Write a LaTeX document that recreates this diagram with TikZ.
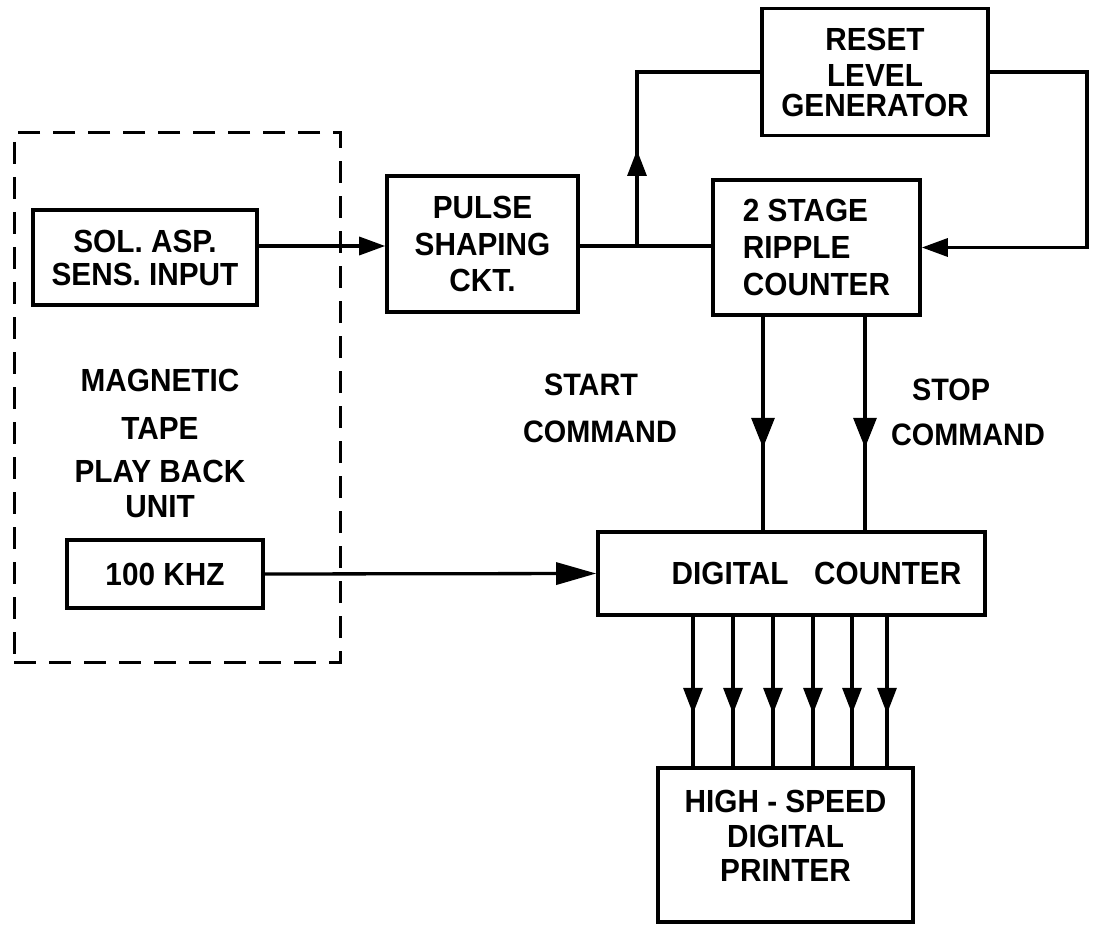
\documentclass[tikz,border=0pt]{standalone}
\usepackage{fontspec}
\setmainfont{Liberation Sans}[FakeStretch=0.93]
\usetikzlibrary{arrows.meta,decorations.markings,calc}
\begin{document}
\begin{tikzpicture}[x=1pt,y=-1pt,
  txt/.style={font=\fontsize{32}{36}\selectfont\bfseries, align=center},
  box/.style={draw, line width=3.6pt, txt, inner sep=0pt},
  wire/.style={line width=3.3pt},
  midarr/.style={postaction={decorate},decoration={markings,mark=at position #1 with {\arrow{Triangle[length=26pt,width=19pt]}}}},
  bigarr/.style={postaction={decorate},decoration={markings,mark=at position #1 with {\arrow{Triangle[length=30pt,width=23pt]}}}},
  endarr/.style={-{Triangle[length=26pt,width=18pt]}},
  longarr/.style={-{Triangle[length=40pt,width=22pt]}}]

\useasboundingbox (0,0) rectangle (1093,928);

% dashed enclosure
\node[draw, line width=3pt, dash pattern=on 22pt off 13pt,
      minimum width=326pt, minimum height=529pt, inner sep=0pt] (tape) at (177,397.5) {};

\node[box, minimum width=224pt, minimum height=95pt,
      font=\fontsize{32}{33}\selectfont\bfseries] (sol) at (145,257.5) {SOL. ASP.\\SENS. INPUT};

\node[txt, font=\fontsize{32}{35}\selectfont\bfseries] (mtp) at (160,443)
      {MAGNETIC\\[13pt]TAPE\\[8pt]PLAY BACK\\UNIT};

\node[box, minimum width=196pt, minimum height=68pt] (khz) at (165,574) {100 KHZ};

\node[box, minimum width=191pt, minimum height=136pt,
      font=\fontsize{32}{36.5}\selectfont\bfseries] (pulse) at (482.5,244) {PULSE\\SHAPING\\CKT.};

\node[box, minimum width=226pt, minimum height=127pt,
      font=\fontsize{32}{30}\selectfont\bfseries] (reset) at (875,72) {RESET\\[6pt]LEVEL\\GENERATOR};

\node[box, align=left, minimum width=207pt, minimum height=135pt,
      font=\fontsize{32}{37}\selectfont\bfseries] (ripple) at (816.5,247.5) {2 STAGE\\RIPPLE\\COUNTER};

\node[box, minimum width=387pt, minimum height=83pt] (dc) at (791.5,573.5)
      {\hspace*{50pt}DIGITAL\hspace{0.8em}COUNTER};

\node[draw, line width=3.6pt, minimum width=255pt, minimum height=154pt, inner sep=0pt,
      label={[font=\fontsize{32}{34.5}\selectfont\bfseries, align=center, yshift=9pt]center:{HIGH - SPEED\\DIGITAL\\PRINTER}}]
      (prn) at (785.5,845) {};

\node[txt, font=\fontsize{31}{47}\selectfont\bfseries] (startl) at (600,408.5) {START\hspace*{18pt}\\COMMAND};
\node[txt, font=\fontsize{31}{45}\selectfont\bfseries] (stopl) at (968,412.5) {STOP\hspace*{34pt}\\COMMAND};

% connectors
\coordinate (J) at (637,246);
\coordinate (rr) at (1087,0);
\coordinate (sx) at (763,0);
\coordinate (tx) at (865,0);

\draw[wire, endarr] (sol.east |- J) -- (pulse.west |- J);
\draw[wire] (pulse.east |- J) -- (ripple.west |- J);
\draw[wire, midarr=96pt] (J) -- (J |- reset.west) -- (reset.west);
\draw[wire, endarr] (reset.east) -- (reset.east -| rr) -- (ripple.east -| rr) -- (ripple.east);
\draw[wire, bigarr=131pt] (sx |- ripple.south) -- (sx |- dc.north);
\draw[wire, bigarr=131pt] (tx |- ripple.south) -- (tx |- dc.north);
\draw[wire, longarr] (khz.east) -- (dc.west);

\foreach \i/\x in {1/693,2/733,3/773,4/813,5/852,6/887}{
  \coordinate (p\i) at (\x,0);
  \draw[wire, midarr=97pt] (p\i |- dc.south) -- (p\i |- prn.north);
}
\end{tikzpicture}
\end{document}
